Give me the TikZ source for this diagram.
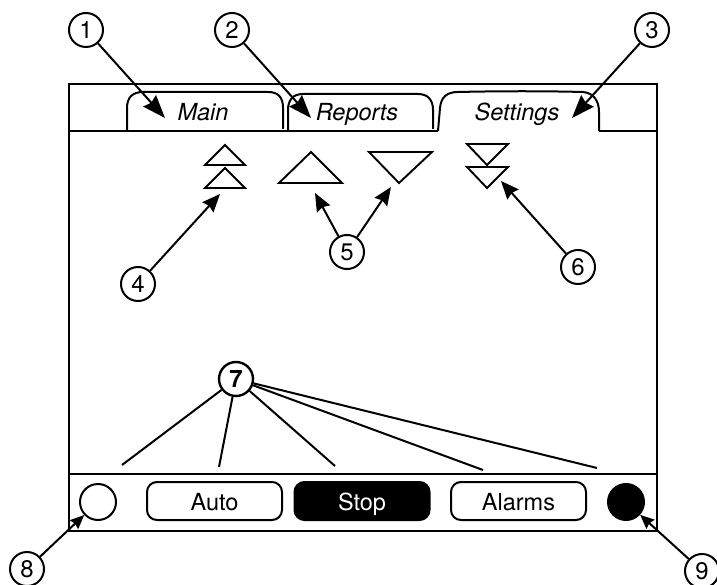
\documentclass[tikz,border=0pt]{standalone}
\usepackage{fontspec}
\setmainfont{TeX Gyre Heros}
\usetikzlibrary{arrows.meta}
\tikzset{
  x=1pt,y=-1pt,
  every path/.style={line width=2pt,line join=miter},
  num/.style={circle,draw,fill=white,minimum size=34pt,inner sep=0pt,font=\fontsize{24}{24}\selectfont},
  numb/.style={num,line width=2.4pt,font=\fontsize{24}{24}\selectfont\bfseries},
  btn/.style={draw,rounded corners=10pt,minimum width=135pt,minimum height=38pt,inner sep=0pt,text height=18pt,text depth=0pt,font=\fontsize{23.5}{23.5}\selectfont},
  tablabel/.style={inner sep=0pt,anchor=base,font=\fontsize{23.5}{23.5}\selectfont\itshape},
  lamp/.style={circle,draw,minimum size=36pt,inner sep=0pt},
  bigarrow/.style={-{Stealth[length=23pt,width=17pt,inset=2.5pt]}},
  midarrow/.style={-{Stealth[length=18pt,width=15pt,inset=2pt]}},
  smallarrow/.style={-{Stealth[length=14pt,width=12pt,inset=1.5pt]}},
  tri/.style={draw,fill=white,line width=1.9pt}
}
\begin{document}
\begin{tikzpicture}
\useasboundingbox (0,0) rectangle (717,585);
% frame
\draw (69,84) rectangle (657,531);
\draw (69,131) -- (438,131);
\draw (599,131) -- (657,131);
\draw (69,474) -- (657,474);
% tabs
\draw (127,131) -- (127,108) .. controls (127,97) and (133,92) .. (143,92) -- (268,92) .. controls (278,92) and (283,97) .. (283,108) -- (283,129);
\draw (288,131) -- (288,110) .. controls (288,100) and (293,94) .. (303,94) -- (418,94) .. controls (428,94) and (433,100) .. (433,110) -- (433,129);
\draw (438,131) -- (440,108) .. controls (441,97) and (447,92) .. (458,92) .. controls (500,91) and (545,91) .. (583,92) .. controls (593,93) and (599,100) .. (599,112) -- (599,131);
\node[tablabel] (main) at (203,120.5) {Main};
\node[tablabel] (reports) at (357,120.5) {Reports};
\node[tablabel] (settings) at (517,120.5) {Settings};
% triangles
\draw[tri] (225,145) -- (245,165) -- (205,165) -- cycle;
\draw[tri] (225,168) -- (245,188) -- (205,188) -- cycle;
\draw[tri] (311,152) -- (342,183) -- (279,183) -- cycle;
\draw[tri] (369,152) -- (432,152) -- (399,183) -- cycle;
\draw[tri] (467,144) -- (508,144) -- (487,165) -- cycle;
\draw[tri] (467,167) -- (508,167) -- (487,188) -- cycle;
% bottom bar
\node[lamp] (lampa) at (98,502) {};
\node[btn] (auto) at (214.5,501) {Auto};
\node[btn,fill=black,text=white] (stop) at (362,501) {Stop};
\node[btn] (alarms) at (518.5,501) {Alarms};
\node[lamp,fill=black] (lampb) at (626,502) {};
% numbered callouts
\node[num] (n1) at (86,30) {1};
\node[num] (n2) at (232,30) {2};
\node[num] (n3) at (652,30) {3};
\node[num] (n4) at (138,284) {4};
\node[num] (n5) at (347,252) {5};
\node[num] (n6) at (578,267) {6};
\node[numb] (n7) at (236,379) {7};
\node[num] (n8) at (27,569) {8};
\node[num] (n9) at (702,571) {9};
% free ends
\coordinate (t1) at (165,118);
\coordinate (t2) at (311,118);
\coordinate (t3) at (572,118);
\coordinate (t4) at (220,194);
\coordinate (t5a) at (315,193);
\coordinate (t5b) at (391,187);
\coordinate (t6) at (501,181);
\coordinate (e1) at (122,465);
\coordinate (e2) at (219,467);
\coordinate (e3) at (335,466);
\coordinate (e4) at (483,470);
\coordinate (e5) at (597,468);
% connectors
\draw[bigarrow] (n1) -- (t1);
\draw[bigarrow] (n2) -- (t2);
\draw[bigarrow] (n3) -- (t3);
\draw[midarrow] (n4) -- (t4);
\draw[midarrow] (n5) -- (t5a);
\draw[midarrow] (n5) -- (t5b);
\draw[midarrow] (n6) -- (t6);
\draw (n7) -- (e1);
\draw (n7) -- (e2);
\draw (n7) -- (e3);
\draw (n7) -- (e4);
\draw (n7) -- (e5);
\draw[smallarrow] (n8) -- (lampa);
\draw[smallarrow] (n9) -- (lampb);
\end{tikzpicture}
\end{document}
